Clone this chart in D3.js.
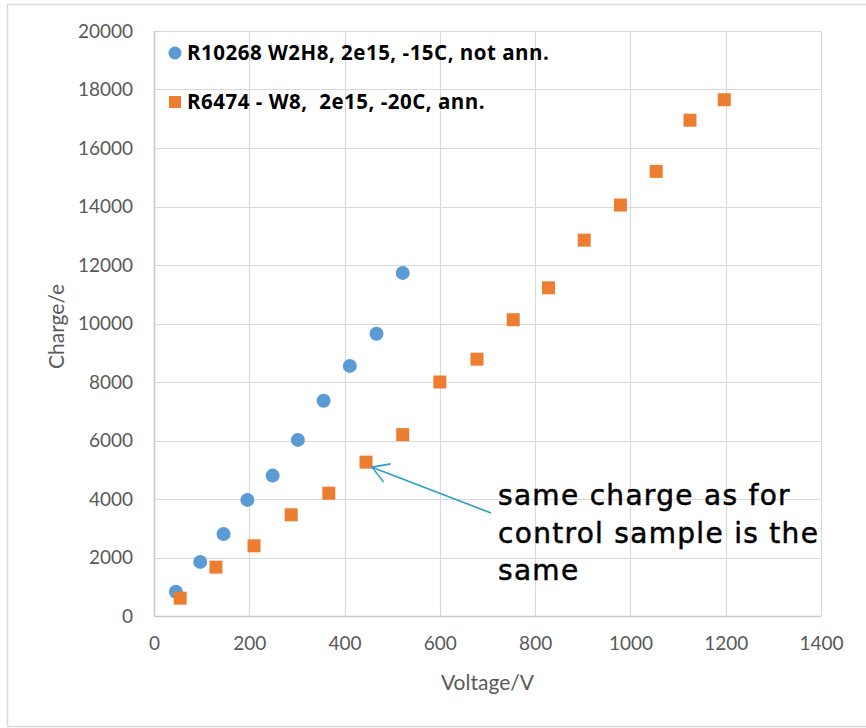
<!DOCTYPE html>
<html>
<head>
<meta charset="utf-8">
<script src="https://cdn.jsdelivr.net/npm/d3@7"></script>
<style>
  body { margin: 0; background: #fff; }
  svg { display: block; }
</style>
</head>
<body>
<svg id="chart" width="866" height="728"></svg>
<script>
// series
var blueName = "R10268 W2H8, 2e15, -15C, not ann.";
var blueV = [46, 97, 146, 196, 249, 302, 356, 411, 467, 522];
var blueQ = [830, 1850, 2800, 3970, 4800, 6020, 7360, 8550, 9650, 11730];

var orangeName = "R6474 - W8,  2e15, -20C, ann.";
var orangeV = [55, 130, 210, 288, 367, 445, 522, 600, 678, 754, 828, 903, 979, 1054, 1125, 1197];
var orangeQ = [610, 1670, 2400, 3460, 4200, 5260, 6200, 8000, 8780, 10130, 11220, 12850, 14050, 15200, 16950, 17650];

var xTicks = [0, 200, 400, 600, 800, 1000, 1200, 1400];
var yTicks = [0, 2000, 4000, 6000, 8000, 10000, 12000, 14000, 16000, 18000, 20000];

var noteLines = ["same charge as for", "control sample is the", "same"];
var notePoint = {v: 445, q: 5260};

var svg = d3.select("#chart");
var grey = "#d9d9d9";
var labelColor = "#595959";

var x = d3.scaleLinear().domain([0, 1400]).range([154, 821]);
var y = d3.scaleLinear().domain([0, 20000]).range([616, 31]);

// outer chart border (right side runs off the picture)
svg.append("rect")
  .attr("x", 7.5).attr("y", 4.5)
  .attr("width", 900).attr("height", 722)
  .attr("fill", "none").attr("stroke", grey).attr("stroke-width", 1.5);

// gridlines
svg.append("g").selectAll("line").data(yTicks).enter().append("line")
  .attr("x1", x(0)).attr("x2", x(1400))
  .attr("y1", function(d) { return Math.round(y(d)) + 0.5; })
  .attr("y2", function(d) { return Math.round(y(d)) + 0.5; })
  .attr("stroke", grey).attr("stroke-width", 1.2);
svg.append("g").selectAll("line").data(xTicks).enter().append("line")
  .attr("y1", y(0)).attr("y2", y(20000))
  .attr("x1", function(d) { return Math.round(x(d)) + 0.5; })
  .attr("x2", function(d) { return Math.round(x(d)) + 0.5; })
  .attr("stroke", grey).attr("stroke-width", 1.2);

// axis lines
svg.append("line").attr("x1", x(0)).attr("x2", x(1400))
  .attr("y1", Math.round(y(0)) + 0.5).attr("y2", Math.round(y(0)) + 0.5)
  .attr("stroke", "#c8c8c8").attr("stroke-width", 1.5);
svg.append("line").attr("y1", y(0)).attr("y2", y(20000))
  .attr("x1", Math.round(x(0)) + 0.5).attr("x2", Math.round(x(0)) + 0.5)
  .attr("stroke", "#c8c8c8").attr("stroke-width", 1.5);

// tick labels via d3 axes, domain and tick lines hidden
var xAxis = svg.append("g").attr("transform", "translate(0," + y(0) + ")")
  .call(d3.axisBottom(x).tickValues(xTicks).tickSize(0).tickPadding(21).tickFormat(d3.format("d")));
var yAxis = svg.append("g").attr("transform", "translate(" + x(0) + ",0)")
  .call(d3.axisLeft(y).tickValues(yTicks).tickSize(0).tickPadding(21).tickFormat(d3.format("d")));
[xAxis, yAxis].forEach(function(a) {
  a.select(".domain").remove();
  a.selectAll("text")
    .attr("font-family", "Lato, 'Open Sans', sans-serif")
    .attr("font-size", 19)
    .attr("fill", labelColor);
});

// axis titles
svg.append("text")
  .attr("x", (x(0) + x(1400)) / 2).attr("y", 690)
  .attr("text-anchor", "middle")
  .attr("font-family", "Lato, 'Open Sans', sans-serif")
  .attr("font-size", 21).attr("fill", labelColor)
  .text("Voltage/V");
svg.append("text")
  .attr("transform", "translate(64," + (y(10000) + 3) + ") rotate(-90)")
  .attr("text-anchor", "middle")
  .attr("font-family", "Lato, 'Open Sans', sans-serif")
  .attr("font-size", 21).attr("fill", labelColor)
  .text("Charge/e");

// data
var blue = blueV.map(function(v, i) { return {v: v, q: blueQ[i]}; });
var orange = orangeV.map(function(v, i) { return {v: v, q: orangeQ[i]}; });

svg.append("g").selectAll("circle").data(blue).enter().append("circle")
  .attr("cx", function(d) { return x(d.v); })
  .attr("cy", function(d) { return y(d.q); })
  .attr("r", 7)
  .attr("fill", "#5b9bd5");

svg.append("g").selectAll("rect").data(orange).enter().append("rect")
  .attr("x", function(d) { return x(d.v) - 6.5; })
  .attr("y", function(d) { return y(d.q) - 6.5; })
  .attr("width", 13).attr("height", 13)
  .attr("fill", "#ed7d31");

// legend
var legend = svg.append("g")
  .attr("font-family", "'Open Sans', Lato, sans-serif")
  .attr("font-weight", "bold").attr("font-size", 20.5)
  .attr("letter-spacing", 0.5).attr("fill", "#000");
legend.append("circle").attr("cx", 175).attr("cy", 53).attr("r", 6.5).attr("fill", "#5b9bd5");
legend.append("text").attr("x", 187).attr("y", 60).attr("xml:space", "preserve").text(blueName);
legend.append("rect").attr("x", 169).attr("y", 96).attr("width", 12).attr("height", 12).attr("fill", "#ed7d31");
legend.append("text").attr("x", 187).attr("y", 109).attr("xml:space", "preserve").text(orangeName);

// annotation with open arrow
var tip = [x(notePoint.v) + 6, y(notePoint.q) + 5];
var tail = [491, 513];
var ang = Math.atan2(tail[1] - tip[1], tail[0] - tip[0]);
var headLen = 19, spread = 31 * Math.PI / 180;
var arrowColor = "#2a9fc2";
svg.append("line")
  .attr("x1", tail[0]).attr("y1", tail[1]).attr("x2", tip[0]).attr("y2", tip[1])
  .attr("stroke", arrowColor).attr("stroke-width", 1.6);
svg.append("path")
  .attr("d", d3.line()([
    [tip[0] + headLen * Math.cos(ang - spread), tip[1] + headLen * Math.sin(ang - spread)],
    tip,
    [tip[0] + headLen * Math.cos(ang + spread), tip[1] + headLen * Math.sin(ang + spread)]
  ]))
  .attr("fill", "none").attr("stroke", arrowColor).attr("stroke-width", 1.6);

svg.append("g").selectAll("text").data(noteLines).enter().append("text")
  .attr("x", 498)
  .attr("y", function(d, i) { return 505 + i * 37.5; })
  .attr("font-family", "'DejaVu Sans', sans-serif")
  .attr("font-size", 28).attr("letter-spacing", 1.3)
  .attr("fill", "#000").attr("stroke", "#000").attr("stroke-width", 0.5)
  .text(function(d) { return d; });
</script>
</body>
</html>
